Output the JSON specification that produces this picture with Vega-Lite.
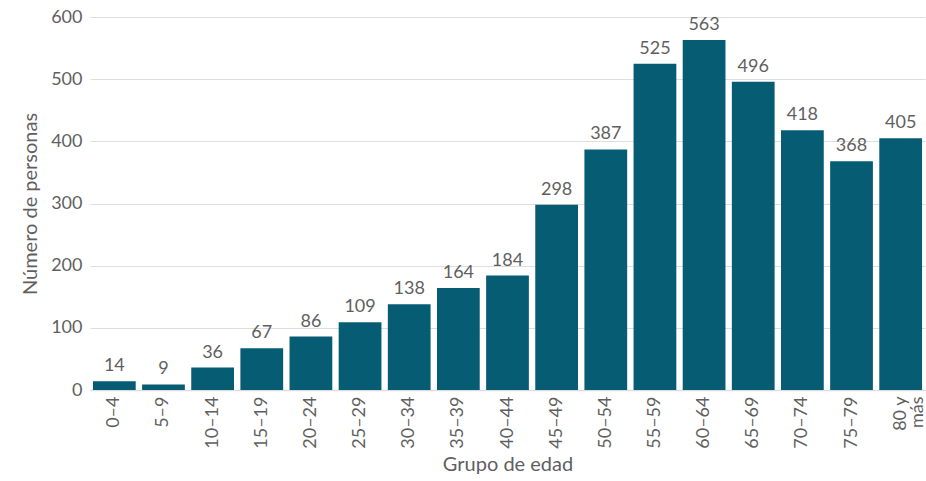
{
  "$schema": "https://vega.github.io/schema/vega-lite/v6.json",
  "autosize": {"type": "none"},
  "padding": {"left": 90, "top": 17, "right": 1, "bottom": 91},
  "width": 835,
  "height": 373,
  "background": "white",
  "config": {
    "view": {"stroke": null},
    "font": "Lato",
    "text": {"font": "Lato"}
  },
  "data": {
    "values": [
      {"grupo": "0–4", "n": 14},
      {"grupo": "5–9", "n": 9},
      {"grupo": "10–14", "n": 36},
      {"grupo": "15–19", "n": 67},
      {"grupo": "20–24", "n": 86},
      {"grupo": "25–29", "n": 109},
      {"grupo": "30–34", "n": 138},
      {"grupo": "35–39", "n": 164},
      {"grupo": "40–44", "n": 184},
      {"grupo": "45–49", "n": 298},
      {"grupo": "50–54", "n": 387},
      {"grupo": "55–59", "n": 525},
      {"grupo": "60–64", "n": 563},
      {"grupo": "65–69", "n": 496},
      {"grupo": "70–74", "n": 418},
      {"grupo": "75–79", "n": 368},
      {"grupo": "80 y más", "n": 405}
    ]
  },
  "encoding": {
    "x": {
      "field": "grupo",
      "type": "nominal",
      "sort": null,
      "scale": {"paddingInner": 0.13, "paddingOuter": 0.06},
      "axis": {
        "title": "Grupo de edad",
        "titleFont": "Lato",
        "titleFontSize": 20,
        "titleFontWeight": "normal",
        "titleColor": "#5f5f5f",
        "titlePadding": 6,
        "labelAngle": -90,
        "labelFont": "Lato",
        "labelFontSize": 18,
        "labelColor": "#5f5f5f",
        "labelPadding": 6,
        "labelLineHeight": 17,
        "labelExpr": "datum.label == '80 y más' ? ['80 y', 'más'] : datum.label",
        "ticks": false,
        "domainColor": "#dddddd",
        "domainWidth": 1.5
      }
    },
    "y": {
      "field": "n",
      "type": "quantitative",
      "scale": {"domain": [0, 600]},
      "axis": {
        "title": "Número de personas",
        "titleFont": "Lato",
        "titleFontSize": 20,
        "titleFontWeight": "normal",
        "titleColor": "#5f5f5f",
        "titlePadding": 10,
        "values": [0, 100, 200, 300, 400, 500, 600],
        "labelFont": "Lato",
        "labelFontSize": 18,
        "labelColor": "#5f5f5f",
        "labelPadding": 8,
        "ticks": false,
        "domain": false,
        "gridColor": "#dddddd",
        "gridWidth": 1.2
      }
    }
  },
  "layer": [
    {"mark": {"type": "bar", "color": "#065d73"}},
    {
      "mark": {"type": "text", "baseline": "bottom", "dy": -6, "fontSize": 18, "color": "#5f5f5f", "font": "Lato"},
      "encoding": {"text": {"field": "n", "type": "quantitative"}}
    }
  ]
}
